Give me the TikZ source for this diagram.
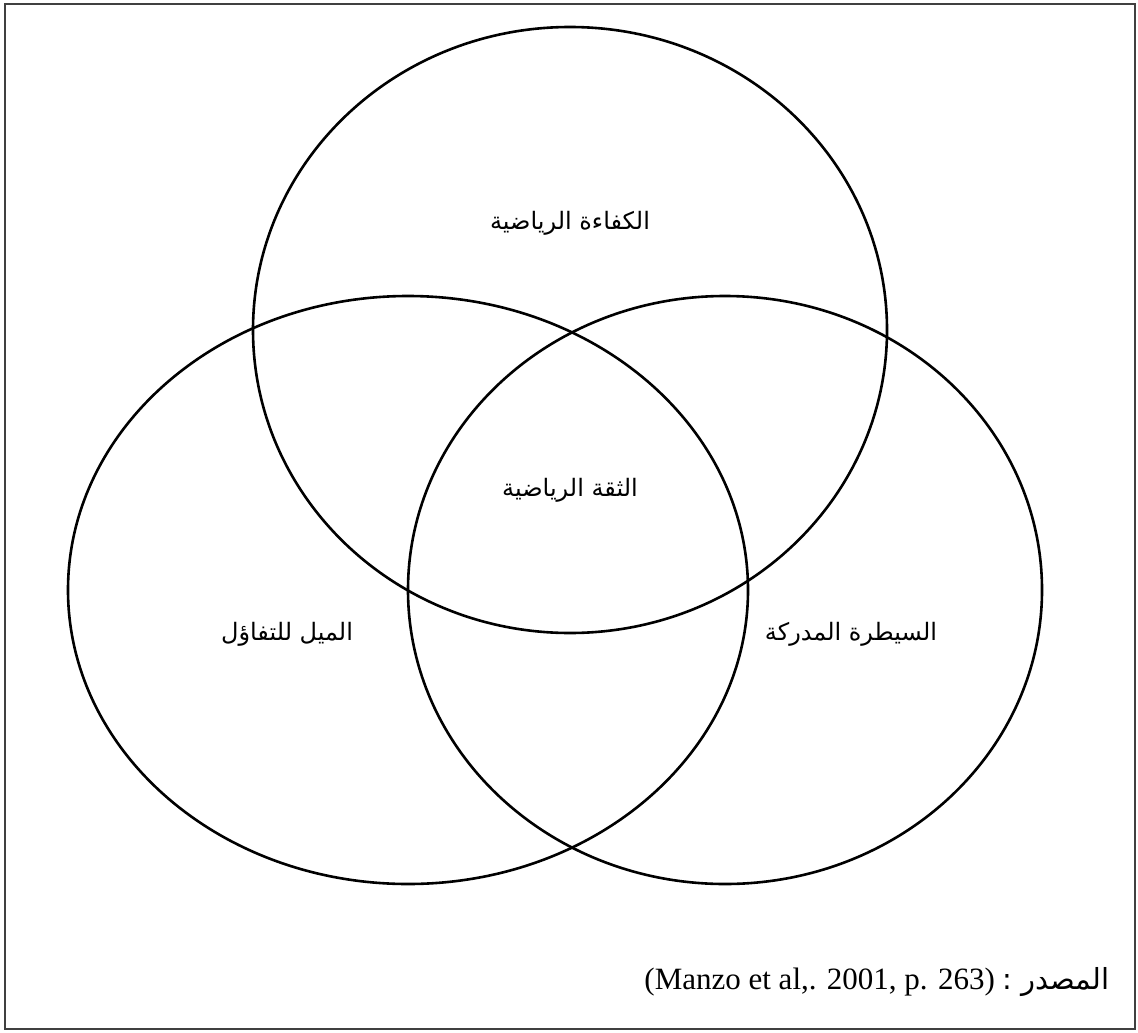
\documentclass[tikz,border=0pt]{standalone}
\usepackage{fontspec}
\setmainfont{Liberation Serif}
\newfontfamily\arabicfont[Script=Arabic]{DejaVu Sans}
\TeXXeTstate=1
\usepackage{tikz}
\usetikzlibrary{shapes.geometric, positioning}
\tikzset{
  venn/.style={ellipse, draw=black, line width=1.3pt, inner sep=0pt},
  arlabel/.style={font=\arabicfont\fontsize{12}{14}\selectfont, inner sep=0pt},
  srclabel/.style={font=\fontsize{15.5}{18}\selectfont, inner sep=0pt},
  frame/.style={draw=black!75, line width=1pt}
}

\begin{document}
\begin{tikzpicture}[x=0.5pt, y=-0.5pt]
  \useasboundingbox (0,0) rectangle (1138,1032);
  % Frame
  \draw[frame] (5,4) rectangle (1135,1029);

  % Circles
  \node[venn, minimum width=317pt, minimum height=303pt] (kafaa) at (570,330) {};
  \node[venn, minimum width=340pt, minimum height=294pt] (mayl) at (408,590) {};
  \node[venn, minimum width=317pt, minimum height=294pt] (sayt) at (725,590) {};

  % Labels
  \node[arlabel] (lblkafaa) at (570,223) {\beginR الكفاءة الرياضية\endR};
  \node[arlabel] (lblthiqa) at (570,490) {\beginR الثقة الرياضية\endR};
  \node[arlabel] (lblmayl) at (287,634) {\beginR الميل للتفاؤل\endR};
  \node[arlabel] (lblsayt) at (851,634) {\beginR السيطرة المدركة\endR};

  % Source
  \node[srclabel, anchor=east] (source) at (1110,982)
    {(Manzo et al,. 2001, p. 263) {\arabicfont\fontsize{14.5}{17}\selectfont\beginR المصدر :\endR}};
\end{tikzpicture}
\end{document}
